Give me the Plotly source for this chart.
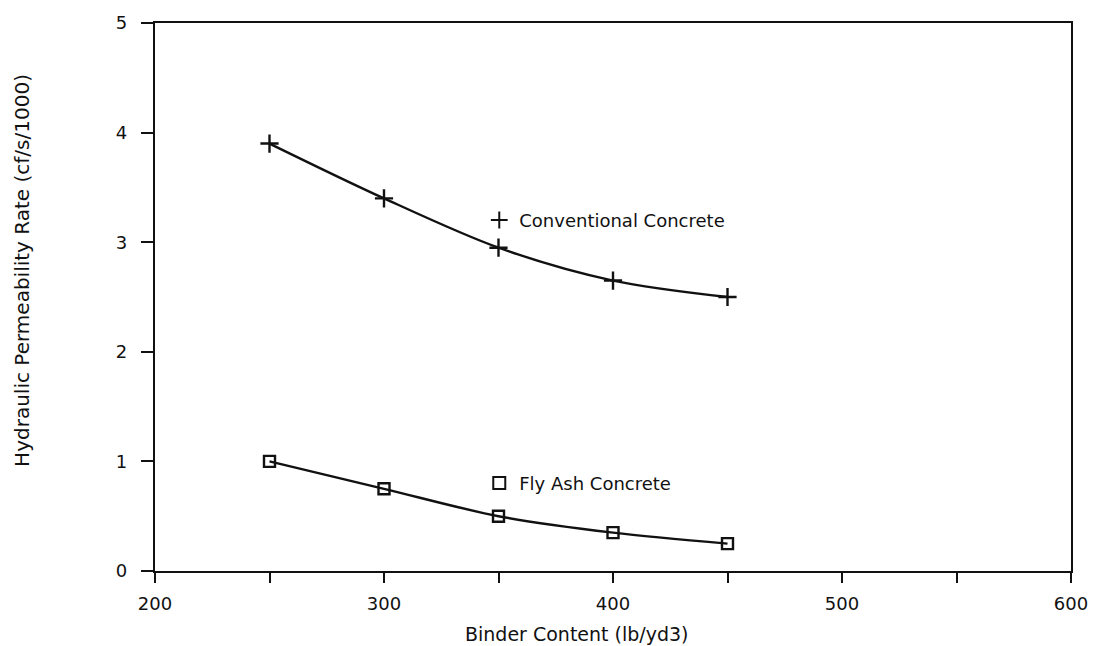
import plotly.graph_objects as go

binder = [250, 300, 350, 400, 450]
conventional = [3.9, 3.4, 2.95, 2.65, 2.5]
fly_ash = [1.0, 0.75, 0.5, 0.35, 0.25]
series_names = ["Conventional Concrete", "Fly Ash Concrete"]
x_title = "Binder Content (lb/yd3)"
y_title = "Hydraulic Permeability Rate (cf/s/1000)"

FONT = "DejaVu Sans"
BLACK = "#111111"

fig = go.Figure()
fig.add_trace(go.Scatter(
    x=binder, y=conventional, mode="lines+markers", showlegend=False,
    line=dict(color=BLACK, width=2.4, shape="spline", smoothing=0.9),
    marker=dict(symbol="cross-thin", size=13, line=dict(color=BLACK, width=2.4)),
))
fig.add_trace(go.Scatter(
    x=binder, y=fly_ash, mode="lines+markers", showlegend=False,
    line=dict(color=BLACK, width=2.4, shape="spline", smoothing=0.9),
    marker=dict(symbol="square-open", size=11, color=BLACK, line=dict(color=BLACK, width=2.4)),
))
# legend keys
fig.add_trace(go.Scatter(
    x=[None], y=[None], mode="markers", name=series_names[0], legend="legend",
    marker=dict(symbol="cross-thin", size=13, line=dict(color=BLACK, width=2.4)),
))
fig.add_trace(go.Scatter(
    x=[None], y=[None], mode="markers", name=series_names[1], legend="legend2",
    marker=dict(symbol="square-open", size=11, color=BLACK, line=dict(color=BLACK, width=2.4)),
))

axis_common = dict(
    showline=True, linecolor=BLACK, linewidth=2.4, mirror=True,
    showgrid=False, zeroline=False, ticks="outside", tickcolor=BLACK,
    tickwidth=2.2, tickfont=dict(family=FONT, size=18, color=BLACK),
)

fig.update_xaxes(range=[200, 600], tickvals=[200, 300, 400, 500, 600], ticklen=10,
                 minor=dict(dtick=50, ticks="outside", ticklen=10, tickwidth=2.2, tickcolor=BLACK),
                 ticklabelstandoff=5, **axis_common)
fig.update_yaxes(range=[0, 5], dtick=1, ticklen=12, ticklabelstandoff=10, **axis_common)

legend_common = dict(font=dict(family=FONT, size=18, color=BLACK), bgcolor="rgba(0,0,0,0)",
                     xanchor="left", yanchor="middle", itemsizing="constant")
fig.update_layout(
    width=1100, height=646,
    margin=dict(l=155, r=21, t=21, b=75),
    plot_bgcolor="white", paper_bgcolor="white",
    legend=dict(x=0.354, y=3.2 / 5, **legend_common),
    legend2=dict(x=0.354, y=0.8 / 5, **legend_common),
    annotations=[
        dict(text=x_title, xref="paper", yref="paper", x=0.461, y=-0.115,
             xanchor="center", yanchor="middle", showarrow=False,
             font=dict(family=FONT, size=19, color=BLACK)),
        dict(text=y_title, xref="paper", yref="paper", x=-0.145, y=0.548,
             xanchor="center", yanchor="middle", showarrow=False, textangle=-90,
             font=dict(family=FONT, size=20, color=BLACK)),
    ],
)

fig.write_html("out.html", config={"displayModeBar": False},
               post_script="document.body.style.margin='0';document.body.style.overflow='hidden';")
